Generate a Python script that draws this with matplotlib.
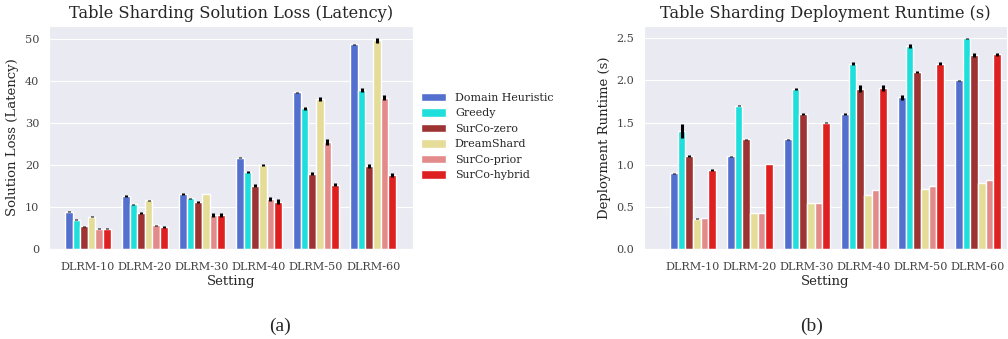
import numpy as np
import matplotlib
matplotlib.use('Agg')
import matplotlib.pyplot as plt
import seaborn as sns

settings = ['DLRM-10', 'DLRM-20', 'DLRM-30', 'DLRM-40', 'DLRM-50', 'DLRM-60']
methods = ['Domain Heuristic', 'Greedy', 'SurCo-zero', 'DreamShard', 'SurCo-prior', 'SurCo-hybrid']
colors = ['#5470cf', '#1fdfdc', '#9e3333', '#e5dc98', '#e38b8b', '#df2020']

# solution loss (latency), one list per method
loss_dh = [8.9, 12.6, 13.1, 21.7, 37.3, 48.7]
loss_greedy = [7.0, 10.6, 12.1, 18.3, 33.5, 37.8]
loss_zero = [5.4, 8.6, 11.2, 15.1, 17.9, 19.8]
loss_dream = [7.7, 11.6, 13.1, 20.0, 35.7, 49.7]
loss_prior = [4.8, 5.6, 8.1, 11.9, 25.5, 36.0]
loss_hybrid = [4.8, 5.3, 8.1, 11.3, 15.3, 17.6]

loss_err_dh = [0.15, 0.15, 0.15, 0.1, 0.1, 0.05]
loss_err_greedy = [0.1, 0.15, 0.15, 0.25, 0.4, 0.5]
loss_err_zero = [0.1, 0.15, 0.2, 0.4, 0.35, 0.5]
loss_err_dream = [0.15, 0.1, 0.1, 0.15, 0.5, 0.6]
loss_err_prior = [0.15, 0.15, 0.4, 0.5, 0.7, 0.6]
loss_err_hybrid = [0.15, 0.2, 0.4, 0.5, 0.4, 0.45]

# deployment runtime (s)
rt_dh = [0.90, 1.10, 1.30, 1.60, 1.80, 2.00]
rt_greedy = [1.40, 1.70, 1.90, 2.20, 2.41, 2.50]
rt_zero = [1.10, 1.30, 1.60, 1.90, 2.10, 2.30]
rt_dream = [0.36, 0.43, 0.54, 0.64, 0.71, 0.78]
rt_prior = [0.37, 0.43, 0.55, 0.70, 0.75, 0.82]
rt_hybrid = [0.94, 1.01, 1.50, 1.91, 2.20, 2.31]

rt_err_dh = [0.005, 0.005, 0.008, 0.008, 0.03, 0.01]
rt_err_greedy = [0.08, 0.003, 0.01, 0.015, 0.025, 0.005]
rt_err_zero = [0.01, 0.01, 0.01, 0.04, 0.015, 0.02]
rt_err_dream = [0.008, 0.0, 0.0, 0.0, 0.0, 0.0]
rt_err_prior = [0.0, 0.0, 0.0, 0.0, 0.0, 0.0]
rt_err_hybrid = [0.01, 0.0, 0.004, 0.035, 0.015, 0.015]

loss = [loss_dh, loss_greedy, loss_zero, loss_dream, loss_prior, loss_hybrid]
loss_err = [loss_err_dh, loss_err_greedy, loss_err_zero, loss_err_dream, loss_err_prior, loss_err_hybrid]
rt = [rt_dh, rt_greedy, rt_zero, rt_dream, rt_prior, rt_hybrid]
rt_err = [rt_err_dh, rt_err_greedy, rt_err_zero, rt_err_dream, rt_err_prior, rt_err_hybrid]

sns.set_style('darkgrid')
plt.rcParams['font.family'] = ['DejaVu Serif']

fig = plt.figure(figsize=(10.08, 3.39), dpi=100)
ax1 = fig.add_axes([49/1008, 90/339, 364/1008, 223/339])
ax2 = fig.add_axes([644/1008, 90/339, 363/1008, 223/339])

x = np.arange(len(settings))
w = 0.8 / len(methods)


def draw(ax, vals, errs):
    for i, (v, e) in enumerate(zip(vals, errs)):
        ax.bar(x - 0.4 + w * (i + 0.5), v, w, yerr=e, color=colors[i], label=methods[i],
               error_kw=dict(ecolor='black', elinewidth=2.2, capsize=0))
    ax.set_xticks(x)
    ax.set_xticklabels(settings, fontsize=8.1, color='#444444')
    ax.tick_params(axis='y', labelsize=8.1, labelcolor='#444444')
    ax.tick_params(axis='x', pad=6)
    ax.set_xlabel('Setting', fontsize=9.5, color='#262626', labelpad=2)
    ax.grid(axis='x', visible=False)


draw(ax1, loss, loss_err)
ax1.set_xlim(-0.68, 5.7)
ax1.set_ylim(0, 53.1)
ax1.set_yticks([0, 10, 20, 30, 40, 50])
ax1.set_ylabel('Solution Loss (Latency)', fontsize=9.5)
ax1.set_title('Table Sharding Solution Loss (Latency)', fontsize=11.7, color='#262626')

draw(ax2, rt, rt_err)
ax2.set_xlim(-0.86, 5.51)
ax2.set_ylim(0, 2.645)
ax2.set_yticks([0.0, 0.5, 1.0, 1.5, 2.0, 2.5])
ax2.set_ylabel('Deployment Runtime (s)', fontsize=9.5)
ax2.set_title('Table Sharding Deployment Runtime (s)', fontsize=11.7, color='#262626')

handles, labels = ax1.get_legend_handles_labels()
fig.legend(handles, labels, loc='upper left', bbox_to_anchor=(411/1008, 1 - 83/339),
           frameon=False, fontsize=7.9, handlelength=2.3, handleheight=0.8,
           handletextpad=0.8, labelspacing=0.5)

fig.text(280/1008, 1 - 326/339, '(a)', ha='center', va='center', fontsize=14, family='Liberation Serif')
fig.text(812/1008, 1 - 326/339, '(b)', ha='center', va='center', fontsize=14, family='Liberation Serif')

fig.savefig('out.png', dpi=100)
